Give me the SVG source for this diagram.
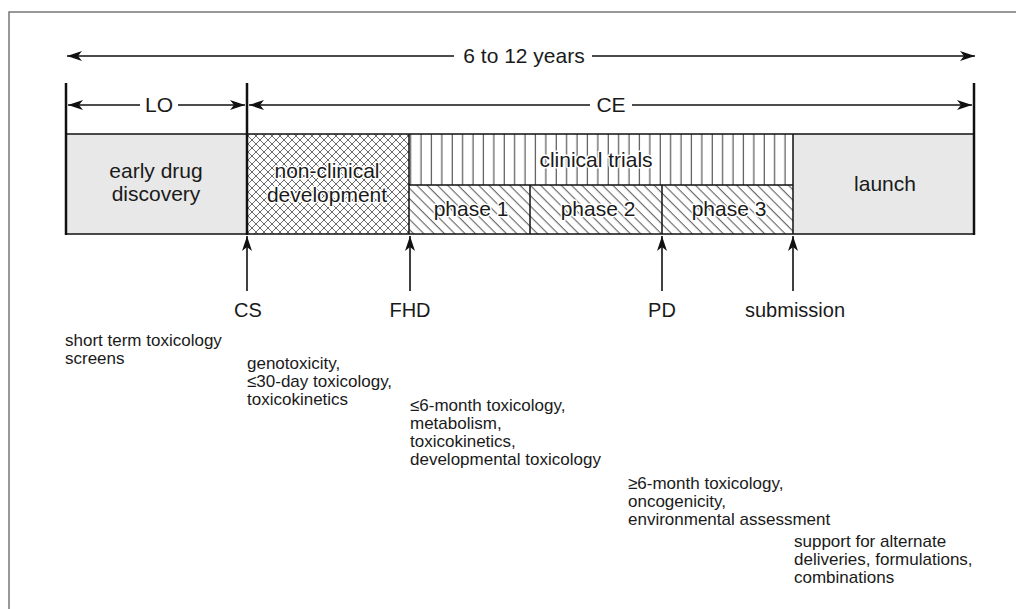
<svg xmlns="http://www.w3.org/2000/svg" width="1016" height="609" viewBox="0 0 1016 609">
<style>
  text { font-family: "Liberation Sans", Arial, sans-serif; fill: #1a1a1a; }
  .big { font-size: 21px; }
  .lbl { font-size: 20px; }
  .note { font-size: 17px; }
  .halo { paint-order: stroke; stroke: #fff; stroke-width: 3px; stroke-linejoin: round; }
  .ln { stroke: #111; stroke-width: 1.5; fill: none; }
  .bar { stroke: #111; stroke-width: 2.5; fill: none; }
  .arr { stroke: #111; stroke-width: 1.6; fill: none; marker-end: url(#ah); }
</style>
<defs>
  <marker id="ah" markerUnits="userSpaceOnUse" markerWidth="16" markerHeight="10" refX="15" refY="5" orient="auto-start-reverse" viewBox="0 0 16 10">
    <path d="M0,0 L15,5 L0,10 L4,5 Z" fill="#111"/>
  </marker>
  <pattern id="xhatch" patternUnits="userSpaceOnUse" width="8" height="8">
    <path d="M0,0 L8,8 M8,0 L0,8" stroke="#444" stroke-width="0.8"/>
  </pattern>
  <pattern id="vhatch" patternUnits="userSpaceOnUse" width="10.4" height="10">
    <path d="M5,0 V10" stroke="#333" stroke-width="1"/>
  </pattern>
  <pattern id="dhatch" patternUnits="userSpaceOnUse" width="7.3" height="7.3" patternTransform="rotate(-45)">
    <path d="M3,0 V7.3" stroke="#333" stroke-width="0.85"/>
  </pattern>
</defs>

<rect x="9" y="12" width="1020" height="610" fill="none" stroke="#777" stroke-width="1.5"/>

<g id="early-drug-discovery">
  <rect x="66" y="134" width="181" height="100" fill="#e8e8e8"/>
  <text class="big" x="156" y="178" text-anchor="middle">early drug</text>
  <text class="big" x="156" y="201" text-anchor="middle">discovery</text>
</g>
<g id="non-clinical-development">
  <rect x="247" y="134" width="162" height="100" fill="url(#xhatch)"/>
  <text class="big halo" x="327" y="178" text-anchor="middle">non-clinical</text>
  <text class="big halo" x="327" y="202" text-anchor="middle">development</text>
</g>
<g id="clinical-trials">
  <rect x="409" y="134" width="384" height="51" fill="url(#vhatch)"/>
  <text class="big halo" x="596" y="167" text-anchor="middle">clinical trials</text>
</g>
<g id="phase-1">
  <rect x="409" y="185" width="121" height="49" fill="url(#dhatch)"/>
  <text class="big halo" x="471" y="216" text-anchor="middle">phase 1</text>
</g>
<g id="phase-2">
  <rect x="530" y="185" width="132" height="49" fill="url(#dhatch)"/>
  <text class="big halo" x="598" y="216" text-anchor="middle">phase 2</text>
</g>
<g id="phase-3">
  <rect x="662" y="185" width="131" height="49" fill="url(#dhatch)"/>
  <text class="big halo" x="729" y="216" text-anchor="middle">phase 3</text>
</g>
<g id="launch">
  <rect x="793" y="134" width="181" height="100" fill="#e8e8e8"/>
  <text class="big" x="885" y="191" text-anchor="middle">launch</text>
</g>

<g id="box-lines">
  <path class="ln" d="M66,134 H974 M66,234 H974 M409,134 V234 M793,134 V234 M409,185 H793 M530,185 V234 M662,185 V234"/>
  <path class="bar" d="M66,83 V235 M247,83 V235 M974,83 V235"/>
</g>

<g id="connectors">
  <path class="arr" d="M454,56 H67"/>
  <path class="arr" d="M592,56 H975"/>
  <path class="arr" d="M140,105 H68"/>
  <path class="arr" d="M178,105 H245"/>
  <path class="arr" d="M590,105 H249"/>
  <path class="arr" d="M632,105 H972"/>
  <path class="arr" d="M247,291 V236"/>
  <path class="arr" d="M410,291 V236"/>
  <path class="arr" d="M662,291 V236"/>
  <path class="arr" d="M793,291 V236"/>
</g>

<g id="span-labels">
  <text class="big" x="524" y="63" text-anchor="middle">6 to 12 years</text>
  <text class="big" x="159" y="112" text-anchor="middle">LO</text>
  <text class="big" x="611" y="112" text-anchor="middle">CE</text>
</g>

<g id="milestone-labels">
  <text class="lbl" x="248" y="317" text-anchor="middle">CS</text>
  <text class="lbl" x="410" y="317" text-anchor="middle">FHD</text>
  <text class="lbl" x="662" y="317" text-anchor="middle">PD</text>
  <text class="lbl" x="795" y="317" text-anchor="middle">submission</text>
</g>

<g id="notes">
  <text class="note" x="65" y="346">short term toxicology</text>
  <text class="note" x="65" y="364">screens</text>
  <text class="note" x="247" y="369">genotoxicity,</text>
  <text class="note" x="247" y="387">≤30-day toxicology,</text>
  <text class="note" x="247" y="405">toxicokinetics</text>
  <text class="note" x="410" y="411">≤6-month toxicology,</text>
  <text class="note" x="410" y="429">metabolism,</text>
  <text class="note" x="410" y="447">toxicokinetics,</text>
  <text class="note" x="410" y="465">developmental toxicology</text>
  <text class="note" x="628" y="489">≥6-month toxicology,</text>
  <text class="note" x="628" y="507">oncogenicity,</text>
  <text class="note" x="628" y="525">environmental assessment</text>
  <text class="note" x="794" y="547">support for alternate</text>
  <text class="note" x="794" y="565">deliveries, formulations,</text>
  <text class="note" x="794" y="583">combinations</text>
</g>
</svg>
